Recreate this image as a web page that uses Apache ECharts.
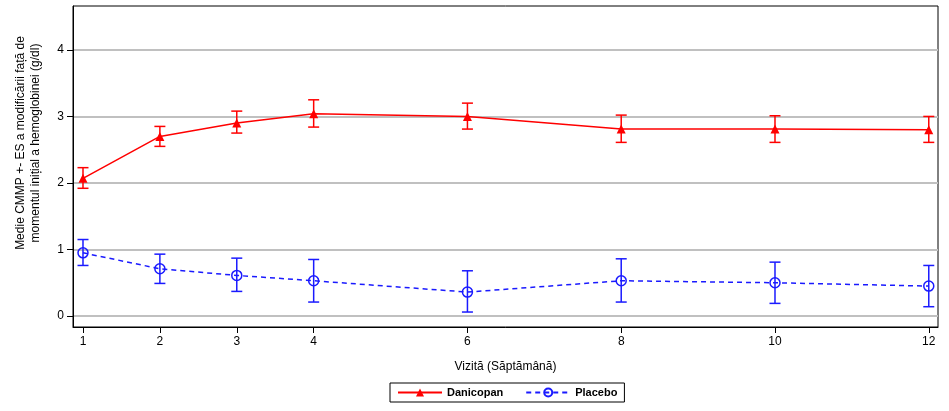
<!DOCTYPE html>
<html>
<head>
<meta charset="utf-8">
<script src="https://cdn.jsdelivr.net/npm/echarts@6/dist/echarts.min.js"></script>
<style>
html,body{margin:0;padding:0;background:#fff;}
#c{width:949px;height:411px;}
</style>
</head>
<body>
<div id="c"></div>
<script>
var weeks = [1, 2, 3, 4, 6, 8, 10, 12];
var xTicks = [1, 2, 3, 4, 6, 8, 10, 12];
var yTicks = [0, 1, 2, 3, 4];
var danMean = [2.07, 2.70, 2.90, 3.04, 3.00, 2.81, 2.81, 2.80];
var danLow  = [1.92, 2.55, 2.75, 2.84, 2.81, 2.61, 2.61, 2.61];
var danHigh = [2.23, 2.85, 3.08, 3.25, 3.20, 3.02, 3.01, 3.00];
var plaMean = [0.95, 0.71, 0.61, 0.53, 0.36, 0.53, 0.50, 0.45];
var plaLow  = [0.76, 0.49, 0.37, 0.21, 0.06, 0.21, 0.19, 0.14];
var plaHigh = [1.15, 0.93, 0.87, 0.85, 0.68, 0.86, 0.81, 0.76];

var RED = '#ff0000', BLUE = '#1a1aff';

function pairs(xs, ys){ return xs.map(function(x,i){ return [x, ys[i]]; }); }
function errData(xs, lo, hi){ return xs.map(function(x,i){ return [x, lo[i], hi[i]]; }); }
function errRender(color){
  return function(params, api){
    var x = api.value(0);
    var lo = api.coord([x, api.value(1)]);
    var hi = api.coord([x, api.value(2)]);
    var hw = 5.5;
    var st = {stroke: color, lineWidth: 1.5};
    return {type:'group', children:[
      {type:'line', shape:{x1:lo[0], y1:lo[1], x2:hi[0], y2:hi[1]}, style:st},
      {type:'line', shape:{x1:lo[0]-hw, y1:lo[1], x2:lo[0]+hw, y2:lo[1]}, style:st},
      {type:'line', shape:{x1:hi[0]-hw, y1:hi[1], x2:hi[0]+hw, y2:hi[1]}, style:st}
    ]};
  };
}

var chart = echarts.init(document.getElementById('c'));
chart.setOption({
  animation: false,
  textStyle: {fontFamily: 'Liberation Sans, Arial, sans-serif'},
  grid: {left: 73, right: 11, top: 6, bottom: 84, show: true, borderColor: '#000', borderWidth: 1, backgroundColor: 'transparent'},
  xAxis: {
    type: 'value', min: 0.87, max: 12.12,
    name: 'Vizită (Săptămână)', nameLocation: 'middle', nameGap: 34,
    nameTextStyle: {color: '#000', fontSize: 12},
    axisLine: {show: true, onZero: false, lineStyle: {color: '#000', width: 1}},
    axisTick: {show: true, customValues: xTicks, length: 6, lineStyle: {color: '#000'}},
    axisLabel: {customValues: xTicks, color: '#000', fontSize: 12, margin: 9},
    splitLine: {show: false}
  },
  yAxis: {
    type: 'value', min: -0.165, max: 4.66,
    axisLine: {show: true, onZero: false, lineStyle: {color: '#000', width: 1}},
    axisTick: {show: true, customValues: yTicks, length: 6, lineStyle: {color: '#000'}},
    axisLabel: {customValues: yTicks, color: '#000', fontSize: 12, margin: 9},
    splitLine: {show: true, lineStyle: {color: '#c0c0c0', width: 2}}
  },
  legend: {
    left: 390, top: 383, padding: [3, 7], itemGap: 22,
    borderColor: '#000', borderWidth: 1,
    itemWidth: 44, itemHeight: 10,
    textStyle: {color: '#000', fontSize: 11, fontWeight: 'bold'},
    data: ['Danicopan', 'Placebo']
  },
  graphic: [{
    type: 'text', rotation: Math.PI/2,
    x: 28, y: 143,
    style: {text: 'Medie CMMP +- ES a modificării față de\nmomentul inițial a hemoglobinei (g/dl)', fill: '#000', font: '12px Liberation Sans, Arial, sans-serif', align: 'center', verticalAlign: 'middle', lineHeight: 15}
  }],
  series: [
    {type: 'custom', name: 'DanErr', data: errData(weeks, danLow, danHigh), renderItem: errRender(RED), z: 3, silent: true},
    {type: 'custom', name: 'PlaErr', data: errData(weeks, plaLow, plaHigh), renderItem: errRender(BLUE), z: 3, silent: true},
    {type: 'line', name: 'Danicopan', data: pairs(weeks, danMean), symbol: 'triangle', symbolSize: 9,
     itemStyle: {color: RED}, lineStyle: {color: RED, width: 1.5}, z: 4},
    {type: 'line', name: 'Placebo', data: pairs(weeks, plaMean), symbol: 'circle', symbolSize: 10,
     itemStyle: {color: 'none', borderColor: BLUE, borderWidth: 1.5}, lineStyle: {color: BLUE, width: 1.5, type: [5, 4]}, z: 4}
  ]
});
</script>
</body>
</html>
